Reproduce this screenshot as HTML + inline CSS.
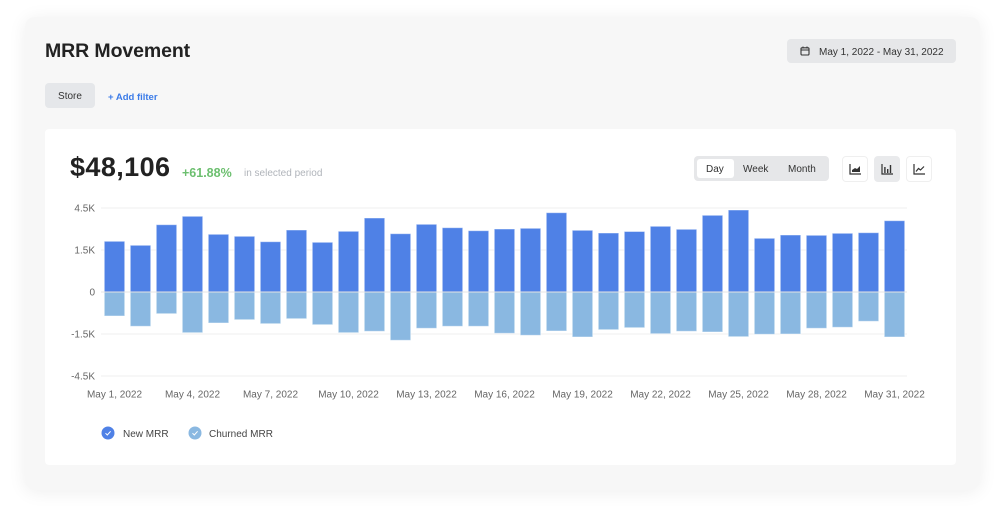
<!DOCTYPE html>
<html>
<head>
<meta charset="utf-8">
<style>
  html,body{margin:0;padding:0;background:#ffffff;}
  body{width:1004px;height:512px;position:relative;overflow:hidden;font-family:"Liberation Sans",sans-serif;}
  .outer{position:absolute;left:25px;top:17px;width:955px;height:473px;background:#f7f7f7;border-radius:10px;box-shadow:0 2px 18px rgba(0,0,0,0.07);}
  .title{position:absolute;left:45px;top:40px;font-size:19.5px;font-weight:bold;color:#222;letter-spacing:-0.1px;white-space:nowrap;}
  .date{position:absolute;left:787px;top:39px;width:169px;height:24px;background:#e6e7e9;border-radius:4px;}
  .date span{position:absolute;left:32px;top:7.5px;font-size:10px;color:#333;white-space:nowrap;}
  .store{position:absolute;left:45px;top:83px;width:50px;height:25px;background:#e5e7ea;border-radius:4px;font-size:10px;color:#333;text-align:center;line-height:28px;}
  .addf{position:absolute;left:108px;top:91.5px;font-size:9.5px;font-weight:bold;color:#3b7be8;white-space:nowrap;}
  .card{position:absolute;left:45px;top:129px;width:911px;height:336px;background:#fff;border-radius:4px;}
  .big{position:absolute;left:70px;top:152px;font-size:27px;font-weight:bold;color:#222;letter-spacing:0.4px;white-space:nowrap;}
  .pct{position:absolute;left:182px;top:166px;font-size:12.5px;font-weight:bold;color:#6cbf6f;}
  .sel{position:absolute;left:244px;top:168px;font-size:10px;color:#b0b4ba;white-space:nowrap;}
  .seg{position:absolute;left:694px;top:156px;width:135px;height:25px;background:#e6e7e9;border-radius:4px;}
  .seg .day{position:absolute;left:3px;top:3px;width:37px;height:19px;background:#fff;border-radius:3px;}
  .seg span{position:absolute;top:7.5px;font-size:10px;color:#333;white-space:nowrap;}
  .ib{position:absolute;top:156px;width:24px;height:24px;border:1px solid #efefef;border-radius:4px;background:#fff;box-sizing:content-box;}
  .ib.on{background:#e9eaec;border-color:#e9eaec;}
  .ib svg{position:absolute;left:6px;top:6px;}
  .leg{position:absolute;top:428.5px;font-size:10px;color:#444;white-space:nowrap;}
</style>
</head>
<body>
<div class="outer"></div>
<div class="title">MRR Movement</div>
<div class="date">
  <svg style="position:absolute;left:13px;top:7px" width="10" height="10" viewBox="0 0 10 10">
    <rect x="1" y="1.8" width="8" height="7.2" rx="1" fill="none" stroke="#333" stroke-width="1.1"/>
    <line x1="1" y1="4" x2="9" y2="4" stroke="#333" stroke-width="1"/>
    <line x1="3" y1="0.5" x2="3" y2="2.5" stroke="#333" stroke-width="1"/>
    <line x1="7" y1="0.5" x2="7" y2="2.5" stroke="#333" stroke-width="1"/>
  </svg>
  <span>May 1, 2022 - May 31, 2022</span>
</div>
<div class="store">Store</div>
<div class="addf">+ Add filter</div>

<div class="card"></div>
<div class="big">$48,106</div>
<div class="pct">+61.88%</div>
<div class="sel">in selected period</div>

<div class="seg">
  <div class="day"></div>
  <span style="left:12px">Day</span>
  <span style="left:49px">Week</span>
  <span style="left:94px">Month</span>
</div>
<div class="ib" style="left:842px">
  <svg width="13" height="12" viewBox="0 0 13 12"><path d="M1 1 V11 H12" fill="none" stroke="#333" stroke-width="1.2"/><path d="M3 9 L3 7 L6 5 L8 6 L11 3 L11 9 Z" fill="#333"/></svg>
</div>
<div class="ib on" style="left:874px">
  <svg width="13" height="12" viewBox="0 0 13 12"><path d="M1 1 V11 H12" fill="none" stroke="#333" stroke-width="1.2"/><rect x="3.2" y="4" width="1.4" height="6" fill="#333"/><rect x="6" y="6" width="1.4" height="4" fill="#333"/><rect x="8.8" y="2" width="1.4" height="8" fill="#333"/></svg>
</div>
<div class="ib" style="left:906px">
  <svg width="13" height="12" viewBox="0 0 13 12"><path d="M1 1 V11 H12" fill="none" stroke="#333" stroke-width="1.2"/><path d="M3 8.5 L5.5 5.5 L7.5 7 L11 3.5" fill="none" stroke="#333" stroke-width="1.2"/></svg>
</div>

<svg style="position:absolute;left:0;top:0" width="1004" height="512">
  <g stroke="#efefef" stroke-width="1">
    <line x1="101" y1="208" x2="907" y2="208"/>
    <line x1="101" y1="250" x2="907" y2="250"/>
    <line x1="101" y1="334" x2="907" y2="334"/>
    <line x1="101" y1="376" x2="907" y2="376"/>
  </g>
  <g font-family="Liberation Sans, sans-serif" font-size="10" fill="#666" text-anchor="end">
    <text x="95" y="211.5">4.5K</text>
    <text x="95" y="253.5">1.5K</text>
    <text x="95" y="295.5">0</text>
    <text x="95" y="337.5">-1.5K</text>
    <text x="95" y="379.5">-4.5K</text>
  </g>
  <g fill="#4f81e6" stroke="rgba(255,255,255,0.45)" stroke-width="1">
    <rect x="104.3" y="241.3" width="20.4" height="50.7"/>
    <rect x="130.3" y="245.3" width="20.4" height="46.7"/>
    <rect x="156.3" y="224.7" width="20.4" height="67.3"/>
    <rect x="182.3" y="216.3" width="20.4" height="75.7"/>
    <rect x="208.3" y="234.3" width="20.4" height="57.7"/>
    <rect x="234.3" y="236.3" width="20.4" height="55.7"/>
    <rect x="260.3" y="241.7" width="20.4" height="50.3"/>
    <rect x="286.3" y="230" width="20.4" height="62"/>
    <rect x="312.3" y="242.3" width="20.4" height="49.7"/>
    <rect x="338.3" y="231.3" width="20.4" height="60.7"/>
    <rect x="364.3" y="218" width="20.4" height="74"/>
    <rect x="390.3" y="233.7" width="20.4" height="58.3"/>
    <rect x="416.3" y="224.3" width="20.4" height="67.7"/>
    <rect x="442.3" y="227.7" width="20.4" height="64.3"/>
    <rect x="468.3" y="230.7" width="20.4" height="61.3"/>
    <rect x="494.3" y="229" width="20.4" height="63"/>
    <rect x="520.3" y="228.3" width="20.4" height="63.7"/>
    <rect x="546.3" y="212.7" width="20.4" height="79.3"/>
    <rect x="572.3" y="230.3" width="20.4" height="61.7"/>
    <rect x="598.3" y="233" width="20.4" height="59"/>
    <rect x="624.3" y="231.5" width="20.4" height="60.5"/>
    <rect x="650.3" y="226.3" width="20.4" height="65.7"/>
    <rect x="676.3" y="229.3" width="20.4" height="62.7"/>
    <rect x="702.3" y="215.3" width="20.4" height="76.7"/>
    <rect x="728.3" y="210" width="20.4" height="82"/>
    <rect x="754.3" y="238.3" width="20.4" height="53.7"/>
    <rect x="780.3" y="235" width="20.4" height="57"/>
    <rect x="806.3" y="235.3" width="20.4" height="56.7"/>
    <rect x="832.3" y="233.3" width="20.4" height="58.7"/>
    <rect x="858.3" y="232.7" width="20.4" height="59.3"/>
    <rect x="884.3" y="220.7" width="20.4" height="71.3"/>
  </g>
  <g fill="#8ab8e1" stroke="rgba(255,255,255,0.45)" stroke-width="1">
    <rect x="104.3" y="292" width="20.4" height="24"/>
    <rect x="130.3" y="292" width="20.4" height="34.3"/>
    <rect x="156.3" y="292" width="20.4" height="21.7"/>
    <rect x="182.3" y="292" width="20.4" height="40.7"/>
    <rect x="208.3" y="292" width="20.4" height="31"/>
    <rect x="234.3" y="292" width="20.4" height="27.7"/>
    <rect x="260.3" y="292" width="20.4" height="31.7"/>
    <rect x="286.3" y="292" width="20.4" height="26.7"/>
    <rect x="312.3" y="292" width="20.4" height="32.7"/>
    <rect x="338.3" y="292" width="20.4" height="40.7"/>
    <rect x="364.3" y="292" width="20.4" height="39.3"/>
    <rect x="390.3" y="292" width="20.4" height="48.3"/>
    <rect x="416.3" y="292" width="20.4" height="36.3"/>
    <rect x="442.3" y="292" width="20.4" height="34.3"/>
    <rect x="468.3" y="292" width="20.4" height="34.3"/>
    <rect x="494.3" y="292" width="20.4" height="41.3"/>
    <rect x="520.3" y="292" width="20.4" height="43.3"/>
    <rect x="546.3" y="292" width="20.4" height="39"/>
    <rect x="572.3" y="292" width="20.4" height="45"/>
    <rect x="598.3" y="292" width="20.4" height="37.7"/>
    <rect x="624.3" y="292" width="20.4" height="35.7"/>
    <rect x="650.3" y="292" width="20.4" height="41.7"/>
    <rect x="676.3" y="292" width="20.4" height="39.3"/>
    <rect x="702.3" y="292" width="20.4" height="40"/>
    <rect x="728.3" y="292" width="20.4" height="44.7"/>
    <rect x="754.3" y="292" width="20.4" height="42.3"/>
    <rect x="780.3" y="292" width="20.4" height="42"/>
    <rect x="806.3" y="292" width="20.4" height="36.3"/>
    <rect x="832.3" y="292" width="20.4" height="35.3"/>
    <rect x="858.3" y="292" width="20.4" height="29.3"/>
    <rect x="884.3" y="292" width="20.4" height="45"/>
  </g>
  <line x1="101" y1="292" x2="907" y2="292" stroke="#e4e4e4" stroke-width="1"/>
  <g font-family="Liberation Sans, sans-serif" font-size="10" fill="#666" text-anchor="middle">
    <text x="114.5" y="397.5">May 1, 2022</text>
    <text x="192.5" y="397.5">May 4, 2022</text>
    <text x="270.5" y="397.5">May 7, 2022</text>
    <text x="348.5" y="397.5">May 10, 2022</text>
    <text x="426.5" y="397.5">May 13, 2022</text>
    <text x="504.5" y="397.5">May 16, 2022</text>
    <text x="582.5" y="397.5">May 19, 2022</text>
    <text x="660.5" y="397.5">May 22, 2022</text>
    <text x="738.5" y="397.5">May 25, 2022</text>
    <text x="816.5" y="397.5">May 28, 2022</text>
    <text x="894.5" y="397.5">May 31, 2022</text>
  </g>
  <circle cx="108" cy="433" r="6.5" fill="#4f81e6"/>
  <path d="M105.5 433.2 L107.3 435 L110.6 431.3" fill="none" stroke="#fff" stroke-width="1"/>
  <circle cx="195" cy="433" r="6.5" fill="#8ab8e1"/>
  <path d="M192.5 433.2 L194.3 435 L197.6 431.3" fill="none" stroke="#fff" stroke-width="1"/>
</svg>
<div class="leg" style="left:123px">New MRR</div>
<div class="leg" style="left:209px">Churned MRR</div>
</body>
</html>
